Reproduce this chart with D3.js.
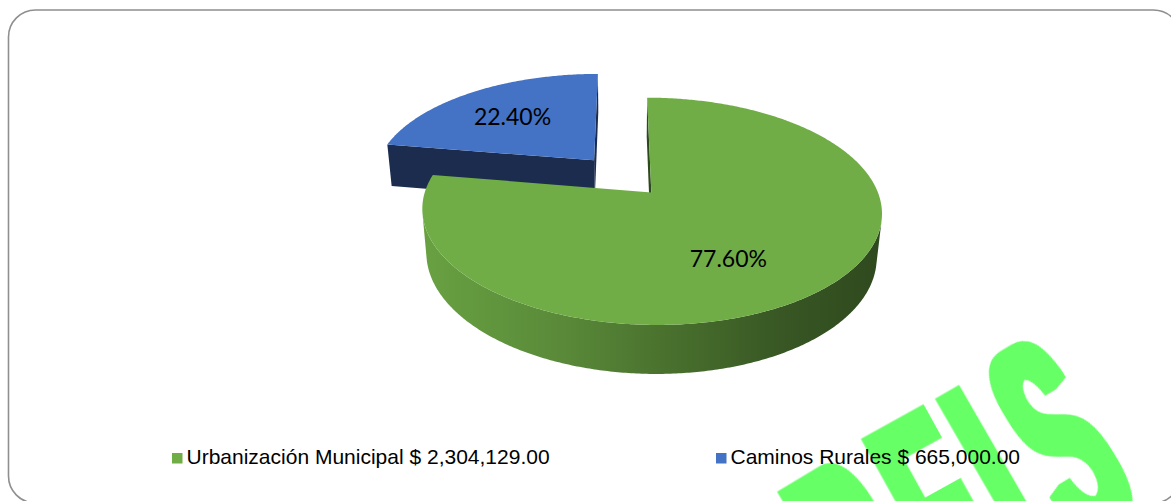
<!DOCTYPE html>
<html>
<head>
<meta charset="utf-8">
<script src="https://cdn.jsdelivr.net/npm/d3@7"></script>
<style>
  body { margin: 0; background: #fff; }
  svg { display: block; }
</style>
</head>
<body>
<div id="chart"></div>
<script>
// data
const categories = ["Urbanización Municipal", "Caminos Rurales"];
const amounts = [2304129.00, 665000.00];
const shares = [77.60, 22.40];
const legendLabels = ["Urbanización Municipal $ 2,304,129.00", "Caminos Rurales $ 665,000.00"];
const watermarkLetters = ["R", "E", "I", "S"];

const width = 1171, height = 501;

const svg = d3.select("#chart")
    .append("svg")
    .attr("width", width)
    .attr("height", height);

const defs = svg.append("defs");

// heavy, condensed look for the watermark: widen strokes sideways only
const heavy = defs.append("filter")
    .attr("id", "heavy")
    .attr("x", "-30%").attr("y", "-10%")
    .attr("width", "160%").attr("height", "120%");
heavy.append("feMorphology")
    .attr("operator", "dilate")
    .attr("radius", "17 3");

// frame
svg.append("rect")
    .attr("x", 8.5).attr("y", 10)
    .attr("width", 1172).attr("height", 493)
    .attr("rx", 27)
    .attr("fill", "#fff")
    .attr("stroke", "#8f8f8f")
    .attr("stroke-width", 1.6);

const topColor = d3.scaleOrdinal().domain(categories).range(["#70ad47", "#4472c4"]);
const sideColor = d3.scaleOrdinal().domain(categories).range(["#2d4a1e", "#1b2c4e"]);

// simple perspective camera for the 3D pie (radius = 1)
const phi = 28.4 * Math.PI / 180, dist = 5.43, focal = 1200;
const thick = 0.225, explode = 0.2;
const cx = 622, cy = 176;
const cosP = Math.cos(phi), sinP = Math.sin(phi);
const cam = [0, dist * cosP, dist * sinP];

function proj(X, Z, H) {
    const v = H * cosP - Z * sinP;
    const w = dist - (Z * cosP + H * sinP);
    return [cx + focal * X / w, cy - focal * v / w];
}

const pie = d3.pie().sort(null).value(d => d);
const arcs = pie(shares).map((d, i) => {
    const mid = (d.startAngle + d.endAngle) / 2;
    return Object.assign(d, {
        name: categories[i],
        label: d3.format(".2f")(shares[i]) + "%",
        mid: mid,
        ox: explode * Math.sin(mid),
        oz: -explode * Math.cos(mid)
    });
});

const line = d3.line();
const rim = (s, a, H) => proj(s.ox + Math.sin(a), s.oz - Math.cos(a), H);
const facing = (nx, nz, px, pz) => nx * (cam[0] - px) + nz * (cam[1] - pz) > 0;

// far slices first
const order = arcs.slice().sort((a, b) => a.oz - b.oz);

order.forEach((s, k) => {
    const g = svg.append("g");
    const n = Math.max(8, Math.ceil((s.endAngle - s.startAngle) / 0.01));
    const angles = d3.range(n + 1).map(j => s.startAngle + (s.endAngle - s.startAngle) * j / n);

    // gradient along the outer wall
    const xs = angles.map(a => rim(s, a, 0)[0]);
    const gid = "side" + k;
    const grad = defs.append("linearGradient")
        .attr("id", gid)
        .attr("gradientUnits", "userSpaceOnUse")
        .attr("x1", d3.min(xs)).attr("x2", d3.max(xs))
        .attr("y1", 0).attr("y2", 0);
    const base = d3.color(topColor(s.name));
    [[0, 0.93], [0.3, 0.8], [0.55, 0.64], [0.78, 0.5], [1, 0.42]].forEach(([o, m]) => {
        grad.append("stop").attr("offset", o)
            .attr("stop-color", d3.rgb(base.r * m, base.g * m, base.b * m));
    });

    // outer wall, only the runs that face the camera
    let run = [];
    const runs = [];
    angles.forEach(a => {
        const px = s.ox + Math.sin(a), pz = s.oz - Math.cos(a);
        if (facing(Math.sin(a), -Math.cos(a), px, pz)) run.push(a);
        else if (run.length) { runs.push(run); run = []; }
    });
    if (run.length) runs.push(run);
    runs.forEach(r => {
        const pts = r.map(a => rim(s, a, 0)).concat(r.slice().reverse().map(a => rim(s, a, -thick)));
        g.append("path")
            .attr("d", line(pts) + "Z")
            .attr("fill", s.name === categories[1] ? sideColor(s.name) : `url(#${gid})`);
    });

    // radial cut faces
    [[s.startAngle, -Math.cos(s.startAngle), -Math.sin(s.startAngle)],
     [s.endAngle, Math.cos(s.endAngle), Math.sin(s.endAngle)]].forEach(([a, nx, nz]) => {
        if (!facing(nx, nz, s.ox, s.oz)) return;
        const pts = [proj(s.ox, s.oz, 0), rim(s, a, 0), rim(s, a, -thick), proj(s.ox, s.oz, -thick)];
        g.append("path")
            .attr("d", line(pts) + "Z")
            .attr("fill", sideColor(s.name));
    });

    // top face
    const topPts = [proj(s.ox, s.oz, 0)].concat(angles.map(a => rim(s, a, 0)));
    g.append("path")
        .attr("d", line(topPts) + "Z")
        .attr("fill", topColor(s.name));
});

// data labels
const labelShift = { "Urbanización Municipal": 0.18, "Caminos Rurales": 0 };
arcs.forEach(s => {
    const a = s.mid + labelShift[s.name], r = 0.62;
    const p = proj(s.ox + r * Math.sin(a), s.oz - r * Math.cos(a), 0);
    svg.append("text")
        .attr("x", p[0] - 3).attr("y", p[1])
        .attr("text-anchor", "middle")
        .attr("dominant-baseline", "central")
        .attr("font-family", "Lato, 'Open Sans', sans-serif")
        .attr("font-size", 23)
        .attr("fill", "#000")
        .text(s.label);
});

// watermark
const wmPlace = [
    { x: 772, y: 486, r: -31 },
    { x: 856, y: 433, r: -29 },
    { x: 930, y: 393, r: -30 },
    { x: 972, y: 363, r: -31 }
];
watermarkLetters.forEach((ch, i) => {
    const p = wmPlace[i];
    svg.append("text")
        .attr("transform", `translate(${p.x},${p.y}) rotate(${p.r}) scale(0.38,1)`)
        .attr("x", 0).attr("y", 210)
        .attr("font-family", "'Liberation Sans', Arial, sans-serif")
        .attr("font-weight", "bold")
        .attr("font-size", 290)
        .attr("fill", "#66ff66")
        .attr("filter", "url(#heavy)")
        .text(ch);
});

// legend
const lx = d3.scaleBand().domain(categories).range([172, 1260]);
const legend = svg.selectAll(".legend")
    .data(categories)
    .join("g")
    .attr("class", "legend")
    .attr("transform", d => `translate(${lx(d)},464)`);

legend.append("rect")
    .attr("x", 0).attr("y", -11)
    .attr("width", 10.5).attr("height", 10.5)
    .attr("fill", d => topColor(d));

legend.append("text")
    .attr("x", 14.5).attr("y", 0)
    .attr("font-family", "'Liberation Sans', Arial, sans-serif")
    .attr("font-size", 21)
    .attr("fill", "#000")
    .text((d, i) => legendLabels[i]);
</script>
</body>
</html>
